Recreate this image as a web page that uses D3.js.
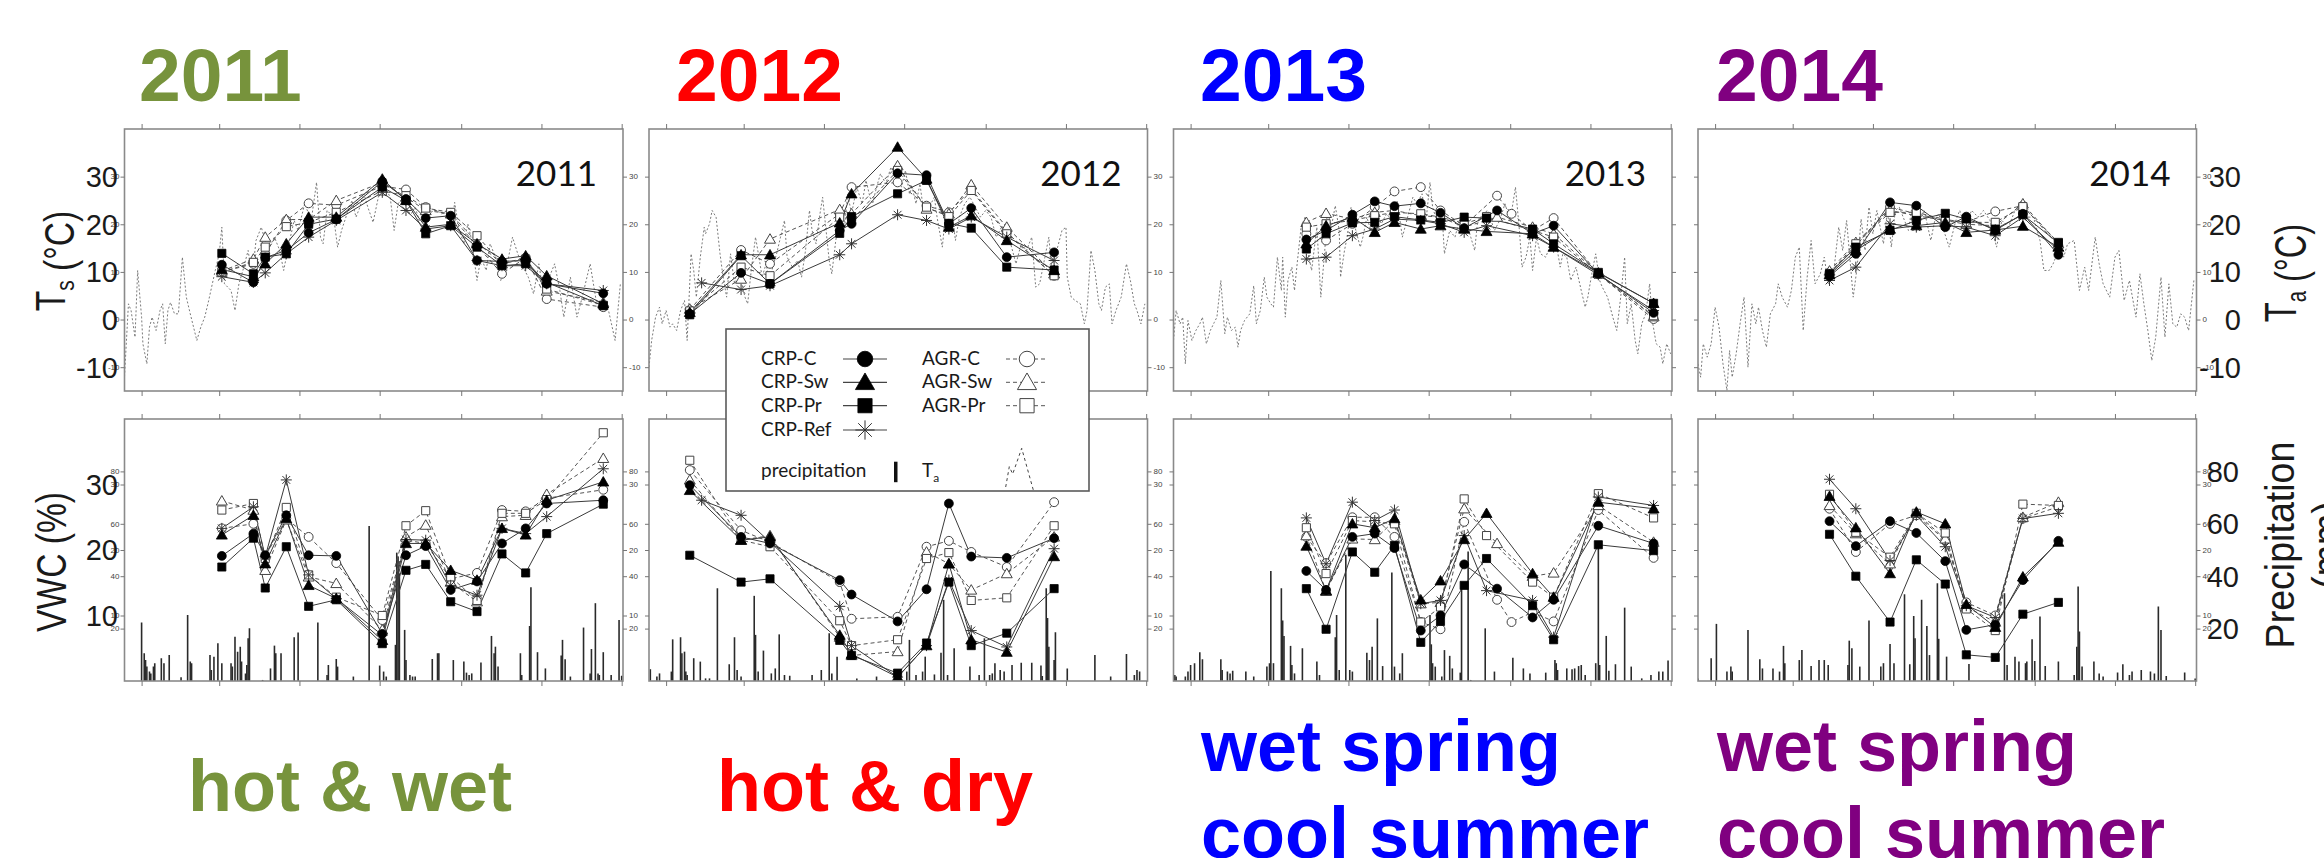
<!DOCTYPE html>
<html><head><meta charset="utf-8">
<script src="https://cdn.jsdelivr.net/npm/d3@7"></script>
<style>body{margin:0;background:#fff}svg{display:block}</style>
</head><body><svg id="c" width="2324" height="858"></svg>
<script>
// ---------------- DATA ----------------
const years = [2011, 2012, 2013, 2014];
const yearColors = ["#77933c", "#ff0000", "#0000ff", "#800080"];
const yearNotes = [["hot & wet"], ["hot & dry"], ["wet spring", "cool summer"], ["wet spring", "cool summer"]];
const seriesNames = ["CRP-C", "CRP-Sw", "CRP-Pr", "CRP-Ref", "AGR-C", "AGR-Sw", "AGR-Pr"];
const tickDays = [0, 59, 120, 181, 243, 304, 365];       // Jan, Mar, May, Jul, Sep, Nov, Jan
const tsTicks = [30, 20, 10, 0, -10];
const vwcTicks = [30, 20, 10];
const rainTicks = [80, 60, 40, 20];

// sampling days (day of year) and series in seriesNames order
const dates2011 = [61, 85, 94, 110, 127, 148, 183, 201, 216, 235, 255, 274, 292, 308, 351];
const ts2011 = [
  [11.5, 7.8, 13.0, 14.5, 18.2, 21.0, 29.0, 25.3, 21.3, 21.8, 12.4, 12.2, 12.4, 7.5, 5.5],
  [10.5, 9.0, 11.7, 15.9, 21.5, 21.5, 29.5, 25.0, 19.4, 20.0, 15.9, 12.7, 13.4, 9.2, 3.3],
  [13.9, 9.6, 13.1, 13.8, 20.0, 21.1, 27.8, 25.0, 18.0, 19.7, 15.2, 11.3, 11.7, 7.8, 2.9],
  [9.0, 7.8, 9.8, 13.8, 17.3, 20.8, 26.7, 22.9, 19.0, 19.7, 12.4, 11.3, 11.3, 7.5, 6.1],
  [10.0, 11.7, 13.8, 20.8, 24.4, 24.0, 28.0, 27.3, 23.6, 21.8, 15.5, 9.6, 13.0, 4.3, 2.6],
  [10.2, 12.7, 17.3, 21.0, 21.0, 25.0, 28.8, 25.7, 22.9, 22.2, 16.2, 11.7, 13.0, 6.0, 3.6],
  [10.0, 12.0, 15.2, 19.5, 20.4, 22.5, 27.0, 26.0, 23.4, 22.5, 17.6, 11.7, 12.7, 6.4, 3.0]
];
const vwc2011 = [
  [19.1, 22.5, 19.2, 25.3, 19.2, 19.1, 7.2, 19.2, 20.6, 13.9, 15.2, 21.0, 23.3, 27.1, 27.6],
  [22.3, 25.3, 17.9, 24.8, 14.6, 12.6, 6.2, 21.0, 21.0, 16.9, 15.4, 23.3, 22.3, 27.6, 30.4],
  [17.4, 21.8, 14.2, 20.5, 11.4, 12.4, 5.7, 16.9, 17.8, 12.1, 10.6, 19.4, 16.5, 22.5, 27.0],
  [23.3, 26.6, 19.0, 30.7, 16.2, 12.6, 7.0, 21.6, 21.5, 14.6, 13.1, 23.3, 22.5, 25.1, 32.4],
  [23.3, 24.0, 19.0, 24.8, 22.0, 18.0, 9.3, 21.5, 21.0, 15.6, 16.5, 26.1, 25.9, 27.9, 29.2],
  [27.5, 26.1, 16.9, 24.6, 15.9, 14.9, 7.8, 22.0, 23.8, 15.1, 12.1, 25.1, 25.3, 28.5, 34.0],
  [26.1, 27.1, 18.7, 26.5, 16.2, 12.8, 10.0, 23.7, 26.0, 15.9, 12.3, 25.6, 25.6, 27.7, 37.9]
];
const ta2011 = [[-13,-12.0],[-10,3.3],[-8,1.9],[-5,-3.7],[-3,10.3],[0,0.5],[1,-5.1],[4,-9.3],[6,-1.6],[8,0.5],[11,-2.3],[14,1.9],[16,3.3],[18,-5.1],[20,1.9],[22,3.6],[25,1.2],[28,1.2],[31,13.1],[34,4.7],[37,1.2],[42,-4.4],[45,-1.6],[48,0.5],[51,4.0],[56,10.3],[59,13.8],[61,19.4],[63,7.5],[68,6.1],[71,1.9],[74,7.5],[77,10.3],[81,14.5],[84,8.9],[87,16.6],[91,19.4],[96,14.5],[101,17.3],[105,14.5],[108,10.3],[112,15.9],[116,20.8],[119,18.7],[124,24.3],[129,20.8],[133,28.8],[136,17.3],[138,15.9],[141,22.9],[146,21.5],[149,15.2],[152,18.7],[157,22.9],[160,25.0],[163,21.5],[166,23.6],[169,26.4],[172,23.6],[176,20.4],[180,25.7],[185,27.8],[189,25.7],[192,18.7],[195,24.3],[199,25.7],[202,22.9],[205,22.2],[208,23.6],[211,20.8],[216,21.5],[219,22.2],[222,22.9],[225,22.9],[228,22.2],[232,22.9],[236,19.4],[238,24.6],[241,19.4],[245,15.9],[248,20.1],[251,16.6],[255,8.2],[258,13.1],[262,10.3],[265,15.9],[269,13.1],[273,8.2],[278,11.7],[282,17.3],[286,13.8],[290,11.0],[294,8.9],[298,5.4],[302,11.7],[306,4.7],[310,8.9],[314,11.7],[318,6.1],[321,0.5],[326,8.9],[331,0.5],[335,4.7],[341,11.7],[346,3.3],[351,4.0],[355,1.9],[360,-4.4],[364,7.5]];
const rain2011 = [[0,22.3],[2,10.6],[3,8.0],[4,5.5],[6,3.6],[7,2.9],[9,5.5],[10,6.8],[15,8.7],[17,6.8],[21,9.9],[30,1.4],[35,25.2],[37,7.4],[38,6.8],[52,9.9],[53,4.2],[55,9.3],[58,14.4],[61,6.8],[68,6.8],[69,5.5],[71,16.9],[73,11.2],[75,13.1],[76,7.4],[79,2.9],[80,6.1],[81,16.3],[82,20.1],[92,0.4],[98,4.8],[101,13.5],[102,10.6],[106,10.6],[116,16.7],[119,18.5],[134,22.3],[141,2.3],[142,6.1],[148,8.4],[149,5.5],[161,1.7],[173,59.2],[181,5.9],[184,3.6],[186,1.7],[193,13.8],[194,49.0],[195,47.5],[196,41.1],[200,19.5],[201,8.0],[204,2.3],[206,1.7],[208,1.7],[221,8.4],[225,10.6],[226,10.6],[237,8.0],[245,7.4],[247,3.2],[249,2.3],[251,2.9],[258,7.1],[266,17.2],[268,10.6],[269,13.1],[271,5.5],[288,10.6],[289,2.3],[295,21.0],[296,35.8],[301,11.0],[307,4.8],[319,9.7],[320,15.7],[322,8.3],[326,1.7],[336,20.4],[341,2.9],[342,12.2],[345,29.7],[347,2.9],[348,2.3],[351,11.0],[357,2.3],[363,23.3],[365,2.0]];

const dates2012 = [18, 27, 57, 79, 132, 141, 176, 198, 215, 232, 259, 295];
const ts2012 = [
  [1.2, null, 9.8, 7.5, 18.7, 20.1, 30.7, 30.3, 20.1, 23.4, 13.1, 14.1],
  [1.5, null, 13.6, 13.6, 20.3, 26.4, 36.2, 29.5, 19.4, 21.8, 16.6, 10.3],
  [1.0, null, 13.4, 7.5, 18.1, 21.6, 26.4, 29.2, 20.2, 19.2, 11.0, 10.4],
  [null, 7.7, 6.3, 7.1, 13.6, 15.9, 22.0, 20.8, 19.0, 21.5, 17.3, 12.4],
  [2.0, null, 14.6, 11.7, 22.2, 27.8, 28.8, 23.9, 22.5, 27.4, 18.3, 9.2],
  [2.2, null, 8.5, 16.9, 23.1, 22.2, 32.3, 23.2, 22.2, 28.3, 19.4, 9.6],
  [1.8, null, 11.0, 9.2, 21.5, 20.8, 31.3, 23.6, 21.6, 27.1, 18.0, 9.2]
];
const vwc2012 = [
  [29.9, null, 22.0, 21.0, 15.4, 13.2, 9.1, 14.0, 27.1, 19.0, 18.8, 21.8],
  [29.1, null, 21.5, 22.0, 7.0, 4.1, 0.6, 5.4, 17.9, 6.3, 4.4, 19.0],
  [19.2, null, 15.1, 15.6, 6.2, 3.9, 1.2, 5.8, 15.1, 5.4, 7.3, 14.1],
  [null, 27.6, 25.3, 21.2, 11.4, 5.4, 0.6, 5.4, 15.4, 7.7, 5.2, 20.2],
  [32.2, null, 23.0, 21.2, 15.1, 9.5, 9.8, 20.5, 21.4, 19.7, 17.4, 27.3],
  [30.7, null, 21.5, 22.2, 6.7, 3.9, 4.5, 19.7, 17.9, 13.9, 16.4, 22.0],
  [33.7, null, 21.5, 20.5, 9.2, 5.4, 6.3, 18.7, 19.6, 12.3, 12.7, 23.7]
];
const ta2012 = [[-13,-10.0],[-11,-4.4],[-8,0.5],[-5,2.6],[-3,-0.9],[0,1.9],[3,-1.6],[5,-0.9],[8,-2.3],[11,1.9],[14,4.0],[16,-4.4],[19,13.8],[21,10.3],[23,4.7],[26,13.1],[29,19.4],[30,18.0],[33,20.1],[35,22.9],[38,21.5],[41,13.8],[43,9.6],[46,4.7],[49,13.8],[52,7.5],[54,10.3],[57,8.2],[60,4.7],[62,3.3],[65,11.0],[68,17.3],[71,12.4],[73,8.9],[76,11.7],[79,7.5],[81,11.0],[84,13.8],[87,17.3],[90,20.8],[92,13.1],[96,11.0],[100,12.4],[103,8.9],[106,14.5],[109,22.9],[111,18.7],[114,15.9],[117,22.2],[119,25.7],[124,12.4],[126,9.6],[129,16.6],[133,22.9],[136,20.1],[138,26.4],[141,22.2],[145,27.8],[149,24.3],[152,29.2],[155,25.7],[157,24.3],[160,27.8],[163,30.6],[167,28.5],[171,32.0],[175,29.9],[179,27.8],[182,31.3],[185,26.4],[187,27.8],[190,24.3],[193,28.5],[195,24.3],[200,23.6],[204,25.7],[206,21.5],[210,15.2],[212,20.8],[214,23.6],[217,22.9],[220,16.6],[223,21.5],[227,24.3],[231,25.7],[235,23.6],[239,21.5],[243,22.9],[247,21.5],[251,17.3],[255,19.4],[259,18.7],[262,15.9],[266,11.7],[270,15.9],[274,14.5],[278,17.3],[281,6.8],[284,7.5],[288,13.1],[291,17.3],[293,11.0],[297,14.5],[301,18.7],[304,19.4],[305,8.9],[308,4.7],[311,4.0],[315,3.3],[318,-0.9],[320,1.9],[323,14.5],[326,10.3],[329,3.3],[331,1.9],[334,6.8],[337,7.5],[339,-0.9],[342,1.9],[346,4.7],[350,11.7],[353,8.2],[356,3.3],[358,1.9],[361,-0.9],[364,3.3]];
const rain2012 = [[-12,4.5],[-7,1.7],[-5,2.9],[4,3.6],[5,15.9],[11,16.7],[12,10.6],[14,11.2],[15,3.6],[16,2.3],[21,8.7],[26,7.4],[30,1.0],[33,1.0],[39,35.4],[48,6.4],[52,16.7],[54,4.2],[57,1.7],[67,32.5],[68,17.6],[70,3.6],[74,11.6],[80,2.9],[83,4.8],[86,17.8],[90,2.3],[94,2.0],[111,2.3],[118,4.2],[124,18.2],[126,2.9],[130,9.3],[145,1.0],[160,1.7],[183,3.6],[185,15.7],[190,2.3],[195,3.6],[197,9.3],[204,2.5],[209,10.8],[211,31.0],[214,2.3],[219,12.5],[231,5.5],[238,2.3],[242,16.3],[246,2.3],[248,2.9],[250,6.8],[254,4.2],[257,3.6],[263,6.1],[270,7.0],[278,7.0],[285,5.9],[286,1.9],[289,35.4],[290,24.0],[291,13.1],[295,8.0],[296,18.6],[305,4.8],[326,9.9],[338,1.7],[350,10.3],[356,2.3],[358,4.2],[360,3.6]];

const dates2013 = [88, 103, 123, 140, 155, 175, 190, 208, 225, 233, 244, 260, 276, 310, 352];
const ts2013 = [
  [16.8, 18.7, 22.0, 24.8, 23.8, 24.4, 22.4, 19.2, null, 22.9, null, 18.0, 19.7, 9.6, 1.4],
  [15.9, 19.7, 21.5, 18.3, 20.4, 19.0, 19.7, 19.0, 18.5, null, null, 18.0, 15.2, 9.8, 3.4],
  [14.8, 18.0, 20.3, 20.4, 21.6, 20.9, 20.4, 21.5, 21.3, null, null, 19.0, 15.9, 9.9, 3.4],
  [12.7, 13.1, 17.6, 19.0, 21.1, 20.8, 20.1, 18.3, 19.7, null, null, 17.6, 15.2, 9.4, 1.9],
  [18.0, 16.6, 20.1, 23.6, 26.9, 27.8, 22.9, 19.7, null, 26.0, 22.2, 18.7, 21.3, 9.5, 0.1],
  [20.4, 22.3, 21.1, 22.5, 22.9, 21.8, 21.5, 19.4, null, 21.5, null, 19.4, 18.0, 9.7, 0.6],
  [19.4, 20.1, 20.8, 21.8, 22.5, 22.2, 21.5, 20.1, 21.6, null, null, 18.7, 17.3, 9.5, 0.8]
];
const vwc2013 = [
  [16.8, 13.9, 22.0, 22.5, 20.3, 7.7, 10.0, 17.8, null, 14.1, null, 9.7, 12.4, 23.7, 21.0],
  [20.6, 13.8, 24.0, 23.4, 24.8, 12.4, 15.3, 21.6, 25.6, null, null, 16.4, 12.8, 27.3, 26.3],
  [14.1, 7.9, 19.7, 16.6, 20.7, 5.9, 9.1, 14.6, 18.7, null, null, 11.5, 6.3, 20.8, 19.9],
  [24.9, 17.9, 27.3, 24.5, 26.1, 11.8, 12.3, 22.2, 13.8, null, null, 12.3, 6.7, 28.1, 26.8],
  [22.0, 18.0, 25.0, 25.0, 22.0, 9.0, 7.9, 24.3, null, 12.4, 9.0, 10.5, 9.1, 26.1, 18.8],
  [22.2, 13.7, 21.7, 21.6, 24.5, 11.8, 12.0, 26.3, null, 21.0, null, 16.0, 16.5, 26.8, 21.2],
  [23.4, 16.4, 24.5, 24.3, 24.0, 9.0, 11.3, 27.8, 22.2, null, null, 15.1, 12.8, 28.6, 24.9]
];
const ta2013 = [[-13,-4.4],[-11,1.9],[-8,-0.9],[-6,0.5],[-4,-9.3],[-2,-0.2],[1,-4.4],[4,-2.3],[7,-0.9],[9,0.5],[12,-5.1],[15,-2.3],[18,-0.6],[20,0.5],[23,8.2],[26,-3.0],[28,0.5],[31,-2.3],[34,-1.6],[36,-5.8],[38,-2.3],[41,-0.2],[45,1.2],[48,7.1],[50,-0.9],[53,1.9],[56,8.9],[58,4.7],[61,3.3],[63,2.6],[66,13.1],[69,6.1],[70,13.1],[72,0.5],[74,8.2],[77,11.0],[79,6.1],[81,11.7],[84,19.4],[87,21.5],[89,14.5],[92,10.3],[96,19.4],[99,4.7],[102,14.5],[104,22.9],[107,19.4],[110,23.9],[113,18.7],[114,8.9],[117,14.5],[119,17.3],[122,23.6],[125,19.4],[129,15.2],[131,17.3],[134,21.5],[137,18.7],[141,22.9],[145,20.1],[149,22.2],[153,20.8],[157,25.0],[161,17.3],[165,21.5],[169,25.7],[172,24.3],[176,26.4],[179,20.8],[182,28.8],[184,23.6],[187,20.8],[191,22.9],[193,13.8],[197,18.7],[201,17.3],[205,21.5],[209,20.8],[213,17.3],[216,14.5],[218,20.1],[222,22.2],[226,22.9],[231,18.7],[235,20.8],[239,24.3],[243,20.8],[247,27.8],[250,18.7],[252,11.0],[255,13.1],[258,17.3],[260,10.3],[263,17.3],[266,13.8],[270,13.1],[274,15.9],[278,15.9],[281,11.0],[283,13.8],[286,13.1],[289,8.2],[293,11.0],[297,6.1],[300,2.6],[302,4.7],[305,9.6],[308,13.8],[311,8.2],[313,6.8],[317,4.7],[321,0.5],[324,-2.3],[327,4.7],[330,13.1],[332,-0.9],[335,3.3],[338,-4.4],[340,-7.2],[343,-0.9],[346,1.2],[349,7.5],[351,-0.2],[354,-5.1],[357,-5.8],[359,-9.3],[362,-5.1],[365,-7.2]];
const rain2013 = [[-12,2.3],[-11,1.7],[-4,1.7],[-2,3.6],[0,6.1],[3,6.8],[7,11.0],[9,8.3],[23,8.3],[24,4.2],[28,3.6],[30,2.9],[32,3.9],[42,3.6],[48,1.7],[58,5.5],[60,6.8],[61,42.0],[63,6.8],[69,35.4],[70,23.1],[71,17.2],[76,13.4],[77,6.1],[79,2.9],[85,12.5],[96,7.4],[98,2.3],[110,16.7],[111,25.2],[113,4.2],[118,48.2],[121,4.2],[123,3.6],[134,10.8],[136,8.0],[138,13.1],[142,23.9],[146,5.7],[153,41.4],[155,5.5],[159,2.9],[161,10.6],[182,25.2],[183,14.0],[184,6.8],[186,5.5],[191,1.7],[193,11.8],[197,9.6],[199,4.8],[205,3.2],[206,36.1],[211,49.4],[213,0.4],[224,20.1],[231,3.6],[245,8.9],[253,4.8],[258,2.9],[270,3.2],[277,8.0],[278,6.8],[279,4.2],[286,4.8],[290,4.5],[292,4.8],[295,5.7],[297,6.1],[300,2.3],[308,6.8],[310,52.6],[311,6.1],[316,17.2],[318,3.9],[323,6.4],[330,28.0],[335,5.5],[343,1.0],[350,2.3],[356,3.6],[359,3.6],[363,7.8]];

const dates2014 = [87, 107, 133, 153, 175, 191, 213, 234, 261];
const ts2014 = [
  [9.1, 13.8, 24.6, 23.9, 19.4, 21.6, 18.7, 22.2, 13.6],
  [9.4, 14.5, 19.0, 19.7, 20.4, 18.3, 18.8, 19.6, 15.2],
  [9.6, 15.2, 18.7, 20.8, 22.3, 21.1, 19.0, 22.0, 16.1],
  [8.2, 11.0, 20.1, 19.4, 19.7, 19.4, 17.6, 21.5, 14.5],
  [9.9, 15.5, 23.6, 22.2, 20.8, 20.5, 22.7, 23.9, 15.5],
  [10.2, 16.2, 22.9, 21.8, 20.8, 20.0, 19.7, 24.3, 15.9],
  [9.6, 15.9, 22.5, 22.5, 21.0, 20.4, 20.4, 23.7, 16.2]
];
const vwc2014 = [
  [24.4, 20.6, 24.4, 22.6, 18.3, 7.8, 8.6, 15.4, 21.4],
  [28.2, 23.4, 16.4, 25.8, 24.0, 11.7, 8.2, 15.9, 21.2],
  [22.4, 16.0, 9.0, 18.5, 14.8, 4.0, 3.6, 10.2, 12.0],
  [30.8, 26.3, 18.4, 25.3, 20.5, 11.5, 9.7, 24.8, 25.6],
  [26.3, 19.7, 24.0, 25.3, 21.5, 12.0, 10.0, 24.8, 26.6],
  [26.8, 22.5, 17.9, 25.6, 21.7, 11.3, 9.0, 25.0, 27.3],
  [28.5, 22.7, 18.9, 25.6, 22.6, 11.0, 7.7, 27.0, 26.8]
];
const ta2014 = [[-13,-9.3],[-11,-12.1],[-9,-5.1],[-6,-7.9],[-3,-5.1],[0,2.6],[3,-1.6],[6,-9.3],[9,-14.9],[11,-6.5],[13,-12.1],[16,-7.2],[19,-0.9],[22,4.7],[25,-10.0],[28,3.3],[31,-0.9],[33,2.6],[36,-2.3],[39,-5.8],[42,1.2],[46,3.3],[48,7.5],[51,4.7],[55,2.6],[58,6.1],[61,13.1],[64,15.2],[67,-2.3],[70,8.9],[73,16.6],[76,7.5],[80,9.6],[83,13.1],[86,7.5],[90,9.6],[94,19.4],[97,14.5],[100,20.8],[105,4.7],[108,11.0],[111,21.1],[114,14.5],[117,23.6],[120,18.0],[123,22.9],[128,15.9],[131,22.9],[134,15.2],[137,22.9],[140,23.6],[144,20.8],[147,18.7],[150,24.3],[154,20.1],[159,22.9],[164,16.6],[167,20.8],[170,22.2],[173,19.4],[178,15.2],[183,20.8],[186,22.9],[190,19.4],[195,22.9],[200,21.5],[204,22.9],[209,20.8],[214,15.2],[218,20.8],[223,19.4],[228,22.9],[232,24.3],[237,21.5],[242,21.5],[247,16.6],[250,10.3],[254,10.3],[257,11.7],[262,15.2],[265,13.1],[268,15.9],[273,16.6],[277,6.1],[281,11.0],[284,6.1],[289,17.3],[292,11.7],[295,7.5],[300,4.7],[304,13.1],[307,14.5],[311,4.0],[315,8.2],[320,0.5],[323,9.6],[326,3.3],[329,-2.3],[332,-8.6],[335,-3.7],[339,8.9],[342,-3.7],[345,7.5],[348,-0.9],[351,-1.6],[354,1.2],[357,0.5],[360,-2.3],[364,8.2]];
const rain2014 = [[-13,1.0],[-3,8.7],[1,21.8],[9,3.6],[12,5.5],[13,3.6],[25,19.5],[34,8.3],[36,4.8],[44,4.8],[49,3.6],[52,13.4],[53,6.8],[64,8.0],[66,11.8],[73,5.7],[79,8.0],[83,8.0],[86,6.1],[101,6.1],[102,15.4],[104,12.5],[110,5.5],[117,23.1],[126,5.5],[128,6.8],[133,14.1],[136,6.8],[144,33.1],[148,6.4],[151,24.8],[152,16.3],[157,31.0],[161,21.0],[163,9.9],[169,37.3],[170,16.1],[176,9.3],[193,6.5],[220,33.5],[222,6.1],[228,9.3],[231,7.4],[236,6.8],[237,7.4],[241,15.9],[243,7.6],[247,24.6],[251,5.7],[261,7.4],[273,2.3],[275,13.1],[276,36.1],[277,18.9],[279,5.5],[288,7.4],[292,2.9],[295,1.7],[306,3.2],[310,6.4],[315,2.3],[317,3.6],[324,4.2],[331,3.6],[334,2.9],[337,28.4],[339,19.5],[343,1.9],[357,3.2],[365,1.0]];

// ---------------- LAYOUT ----------------
const panels = [
  {dates: dates2011, ts: ts2011, vwc: vwc2011, ta: ta2011, rain: rain2011},
  {dates: dates2012, ts: ts2012, vwc: vwc2012, ta: ta2012, rain: rain2012},
  {dates: dates2013, ts: ts2013, vwc: vwc2013, ta: ta2013, rain: rain2013},
  {dates: dates2014, ts: ts2014, vwc: vwc2014, ta: ta2014, rain: rain2014}
];
const svg = d3.select("#c");
svg.append("rect").attr("width", 2324).attr("height", 858).attr("fill", "#fff");

const left0 = 124.5, step = 524.5, pw = 498.5;
const top0 = 129, top1 = 391, bot0 = 419, bot1 = 681;
const yTs = d3.scaleLinear().domain([-15, 40]).range([top1, top0]);
const yVwc = d3.scaleLinear().domain([0, 40]).range([bot1, bot0]);
const yRain = d3.scaleLinear().domain([0, 100]).range([bot1, bot0]);
const frameCol = "#8a8a8a";
const SANS = "'Liberation Sans', Arial, sans-serif";
const CAL = "Lato, 'Open Sans', sans-serif";

// marker drawing
function marker(g, type, cx, cy, s) {
  const filled = type < 3;
  const k = type % 4 === 3 ? 3 : (type < 3 ? type : type - 4);
  if (type === 3) {
    const r = 5.5 * s, a = r * 0.707;
    g.append("path").attr("d", `M${cx - r},${cy}L${cx + r},${cy}M${cx},${cy - r}L${cx},${cy + r}M${cx - a},${cy - a}L${cx + a},${cy + a}M${cx - a},${cy + a}L${cx + a},${cy - a}`)
      .attr("stroke", "#333").attr("stroke-width", 1).attr("fill", "none");
    return;
  }
  const fill = filled ? "#000" : "#fff";
  const stroke = filled ? "#000" : "#444";
  const sym = [d3.symbolCircle, d3.symbolTriangle, d3.symbolSquare][k];
  const size = [62, 52, 66][k] * s * s;
  g.append("path").attr("d", d3.symbol(sym, size)())
    .attr("transform", `translate(${cx},${cy + (k === 1 ? 1 * s : 0)})`)
    .attr("fill", fill).attr("stroke", stroke).attr("stroke-width", filled ? 0.8 : 1);
}

function drawSeries(g, x, y, dates, series) {
  const order = [4, 5, 6, 3, 0, 1, 2];
  const line = d3.line().x(d => x(d[0])).y(d => y(d[1]));
  order.forEach(si => {
    const pts = dates.map((d, j) => [d, series[si][j]]).filter(p => p[1] !== null);
    g.append("path").attr("d", line(pts)).attr("fill", "none")
      .attr("stroke", si >= 4 ? "#555" : "#3a3a3a")
      .attr("stroke-width", 1)
      .attr("stroke-dasharray", si >= 4 ? "4,3" : null);
  });
  order.forEach(si => {
    dates.forEach((d, j) => {
      const v = series[si][j];
      if (v !== null) marker(g, si, x(d), y(v), 1);
    });
  });
}

panels.forEach((p, i) => {
  const x0 = left0 + i * step;
  const x = d3.scaleLinear().domain([-13, 366]).range([x0, x0 + pw]);
  const g = svg.append("g");

  // frames background
  g.append("rect").attr("x", x0).attr("y", top0).attr("width", pw).attr("height", top1 - top0).attr("fill", "#fff");
  g.append("rect").attr("x", x0).attr("y", bot0).attr("width", pw).attr("height", bot1 - bot0).attr("fill", "#fff");

  // clip
  const cid = "clip" + i;
  const defs = svg.append("defs");
  defs.append("clipPath").attr("id", cid + "t").append("rect").attr("x", x0).attr("y", top0).attr("width", pw).attr("height", top1 - top0);
  defs.append("clipPath").attr("id", cid + "b").append("rect").attr("x", x0).attr("y", bot0).attr("width", pw).attr("height", bot1 - bot0);

  // top panel: air temperature and soil temperature
  const gt = g.append("g").attr("clip-path", `url(#${cid}t)`);
  gt.append("path").attr("d", d3.line().x(d => x(d[0])).y(d => yTs(d[1]))(p.ta))
    .attr("fill", "none").attr("stroke", "#7a7a7a").attr("stroke-width", 1).attr("stroke-dasharray", "2,2");
  drawSeries(gt, x, yTs, p.dates, p.ts);

  // bottom panel: precipitation and VWC
  const gb = g.append("g").attr("clip-path", `url(#${cid}b)`);
  gb.selectAll("line.rain").data(p.rain).enter().append("line")
    .attr("x1", d => x(d[0])).attr("x2", d => x(d[0]))
    .attr("y1", yRain(0)).attr("y2", d => yRain(d[1]))
    .attr("stroke", "#2a2a2a").attr("stroke-width", 1.6);
  drawSeries(gb, x, yVwc, p.dates, p.vwc);

  // frames
  [[top0, top1], [bot0, bot1]].forEach(([a, b]) => {
    g.append("rect").attr("x", x0).attr("y", a).attr("width", pw).attr("height", b - a)
      .attr("fill", "none").attr("stroke", frameCol).attr("stroke-width", 1.6);
  });

  // x ticks (no labels)
  const styleAxis = sel => { sel.select(".domain").remove(); sel.selectAll("line").attr("stroke", "#777"); };
  [[top0, d3.axisTop], [top1, d3.axisBottom], [bot0, d3.axisTop], [bot1, d3.axisBottom]].forEach(([yy, ax]) => {
    g.append("g").attr("transform", `translate(0,${yy})`)
      .call(ax(x).tickValues(tickDays).tickSize(5).tickFormat("")).call(styleAxis);
  });
  // y ticks, both sides
  [[x0, d3.axisLeft], [x0 + pw, d3.axisRight]].forEach(([xx, ax]) => {
    g.append("g").attr("transform", `translate(${xx},0)`)
      .call(ax(yTs).tickValues(tsTicks).tickSize(4).tickFormat("")).call(styleAxis);
    g.append("g").attr("transform", `translate(${xx},0)`)
      .call(ax(yVwc).tickValues(vwcTicks).tickSize(4).tickFormat("")).call(styleAxis);
    g.append("g").attr("transform", `translate(${xx},0)`)
      .call(ax(yRain).tickValues(rainTicks).tickSize(4).tickFormat("")).call(styleAxis);
  });
  // tiny tick labels (right side of panels 1, 2, 4; left side of panel 1)
  const tinySides = [];
  if (i !== 2) tinySides.push([x0 + pw + 6, "start"]);
  if (i === 0) tinySides.push([x0 - 5, "end"]);
  tinySides.forEach(([tx, anc]) => {
    tsTicks.forEach(v => g.append("text").attr("x", tx).attr("y", yTs(v)).attr("dy", "0.35em")
      .attr("text-anchor", anc).attr("font-family", SANS).attr("font-size", 8).attr("fill", "#444").text(v));
    vwcTicks.forEach(v => g.append("text").attr("x", tx).attr("y", yVwc(v)).attr("dy", "0.35em")
      .attr("text-anchor", anc).attr("font-family", SANS).attr("font-size", 8).attr("fill", "#444").text(v));
    rainTicks.forEach(v => g.append("text").attr("x", tx).attr("y", yRain(v)).attr("dy", "0.35em")
      .attr("text-anchor", anc).attr("font-family", SANS).attr("font-size", 8).attr("fill", "#444").text(v));
  });

  // year label inside the top panel
  g.append("text").attr("x", x0 + pw - 26).attr("y", 186).attr("text-anchor", "end")
    .attr("font-family", CAL).attr("font-size", 35).attr("fill", "#111").text(years[i]);

  // big coloured year title and note
  svg.append("text").attr("x", [139, 676, 1200, 1716][i]).attr("y", 101)
    .attr("font-family", SANS).attr("font-weight", "bold").attr("font-size", 75)
    .attr("fill", yearColors[i]).text(years[i]);
  const notes = yearNotes[i];
  const noteY = notes.length === 1 ? [811] : [771, 858];
  const noteX = [188, 717, 1201, 1717][i];
  notes.forEach((t, k) => svg.append("text").attr("x", noteX).attr("y", noteY[k])
    .attr("font-family", SANS).attr("font-weight", "bold").attr("font-size", 72)
    .attr("fill", yearColors[i]).text(t));
});

// big axis tick labels
const bigLab = (xx, yy, t) => svg.append("text").attr("x", xx).attr("y", yy).attr("dy", "0.36em")
  .attr("text-anchor", "end").attr("font-family", SANS).attr("font-size", 29).attr("fill", "#1a1a1a").text(t);
tsTicks.forEach(v => bigLab(118, yTs(v), v));
vwcTicks.forEach(v => bigLab(118, yVwc(v), v));
tsTicks.forEach(v => bigLab(2241, yTs(v), v));
rainTicks.forEach(v => bigLab(2239, yRain(v), v));

// axis titles
function vTitle(xx, yy, fs, sx, parts) {
  const t = svg.append("text").attr("transform", `translate(${xx},${yy}) rotate(-90) scale(${sx},1)`)
    .attr("text-anchor", "middle").attr("font-family", SANS).attr("font-size", fs).attr("fill", "#1a1a1a");
  parts.forEach(([txt, sub]) => {
    if (sub) t.append("tspan").attr("font-size", fs * 0.62).attr("dy", fs * 0.22).text(txt);
    else t.append("tspan").attr("dy", t.node().childNodes.length && t.node().lastChild.getAttribute("dy") > 0 ? -fs * 0.22 : 0).text(txt);
  });
  return t;
}
vTitle(65, 261, 42, 0.8, [["T"], ["s", true], [" (°C)"]]);
vTitle(66, 562, 42, 0.8, [["VWC (%)"]]);
vTitle(2296, 273, 44, 0.74, [["T"], ["a", true], [" (°C)"]]);
vTitle(2294, 545, 40, 0.94, [["Precipitation"]]);
vTitle(2341, 545, 40, 0.94, [["(mm)"]]);

// ---------------- LEGEND ----------------
const lg = svg.append("g");
lg.append("rect").attr("x", 726).attr("y", 329).attr("width", 363).attr("height", 162)
  .attr("fill", "#fff").attr("stroke", "#5a5a5a").attr("stroke-width", 1.6);
const rowBase = [365, 388.3, 411.7, 436];
const legText = (xx, yy, t) => lg.append("text").attr("x", xx).attr("y", yy)
  .attr("font-family", CAL).attr("font-size", 19).attr("fill", "#1a1a1a").text(t);
[0, 1, 2, 3].forEach(k => {
  const cy = rowBase[k] - 6;
  legText(761, rowBase[k], seriesNames[k]);
  lg.append("line").attr("x1", 843).attr("x2", 887).attr("y1", cy).attr("y2", cy).attr("stroke", "#444").attr("stroke-width", 1.2);
  marker(lg, k, 865, cy, 1.75);
});
[4, 5, 6].forEach((k, r) => {
  const cy = rowBase[r] - 6;
  legText(922, rowBase[r], seriesNames[k]);
  lg.append("line").attr("x1", 1006).attr("x2", 1048).attr("y1", cy).attr("y2", cy)
    .attr("stroke", "#555").attr("stroke-width", 1).attr("stroke-dasharray", "4,3");
  marker(lg, k, 1027, cy, 1.75);
});
legText(761, 476.7, "precipitation");
lg.append("rect").attr("x", 894).attr("y", 461.7).attr("width", 3.5).attr("height", 20.5).attr("fill", "#111");
const taT = legText(922, 476.7, "T");
taT.append("tspan").attr("font-size", 12).attr("dy", 5).text("a");
lg.append("path").attr("d", "M1005.7,487L1009.3,466.7L1012.7,474L1021.7,448.3L1033.3,490")
  .attr("fill", "none").attr("stroke", "#444").attr("stroke-width", 1).attr("stroke-dasharray", "3,3");
</script>
</body></html>
